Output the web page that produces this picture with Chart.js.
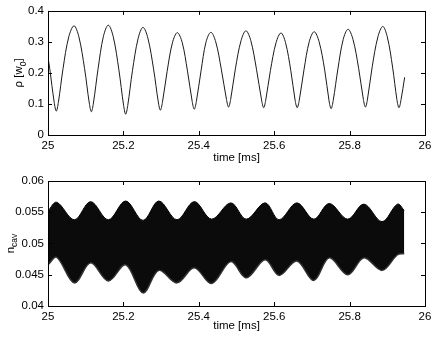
<!DOCTYPE html>
<html>
<head>
<meta charset="utf-8">
<script src="https://cdn.jsdelivr.net/npm/chart.js@4.4.0/dist/chart.umd.min.js"></script>
<style>
  html, body { margin: 0; padding: 0; background: #fff; }
  #wrap { position: relative; width: 436px; height: 337px; overflow: hidden; }
  canvas { position: absolute; left: 0; }
  #top { top: 0; }
  #bottom { top: 168px; }
</style>
</head>
<body>
<div id="wrap">
  <canvas id="top" width="436" height="168"></canvas>
  <canvas id="bottom" width="436" height="169"></canvas>
</div>
<script>
// time axis (ms), shared by both panels
const timeTicks = [25, 25.2, 25.4, 25.6, 25.8, 26];
const timeTickLabels = ['25', '25.2', '25.4', '25.6', '25.8', '26'];

// top panel: rho [w0] (troughs, flanks, peaks)
const rhoTime = [
  25.000, 25.0045, 25.0165,
  25.022, 25.0275, 25.040, 25.055, 25.069, 25.082, 25.097, 25.1095,
  25.115, 25.1205, 25.133, 25.147, 25.160, 25.173, 25.188, 25.2005,
  25.206, 25.2115, 25.224, 25.239, 25.252, 25.265, 25.280, 25.2925,
  25.298, 25.3035, 25.316, 25.330, 25.343, 25.356, 25.370, 25.3825,
  25.388, 25.3935, 25.406, 25.419, 25.432, 25.445, 25.460, 25.4735,
  25.479, 25.4845, 25.497, 25.512, 25.525, 25.538, 25.553, 25.5665,
  25.572, 25.5775, 25.590, 25.605, 25.618, 25.630, 25.644, 25.6555,
  25.661, 25.6665, 25.679, 25.693, 25.706, 25.719, 25.734, 25.7455,
  25.751, 25.7565, 25.769, 25.783, 25.796, 25.809, 25.824, 25.8365,
  25.842, 25.8475, 25.860, 25.875, 25.888, 25.900, 25.914, 25.9255,
  25.931, 25.9365, 25.946
];
const rhoValue = [
  0.250, 0.215, 0.105,
  0.077, 0.105, 0.215, 0.316, 0.352, 0.316, 0.214, 0.103,
  0.075, 0.103, 0.215, 0.318, 0.354, 0.317, 0.210, 0.096,
  0.067, 0.095, 0.207, 0.311, 0.347, 0.312, 0.213, 0.107,
  0.080, 0.105, 0.205, 0.297, 0.330, 0.298, 0.206, 0.108,
  0.083, 0.108, 0.207, 0.299, 0.331, 0.300, 0.210, 0.114,
  0.090, 0.115, 0.213, 0.304, 0.336, 0.304, 0.212, 0.113,
  0.088, 0.112, 0.208, 0.298, 0.329, 0.298, 0.208, 0.112,
  0.088, 0.112, 0.210, 0.301, 0.333, 0.301, 0.209, 0.110,
  0.085, 0.111, 0.213, 0.308, 0.341, 0.308, 0.215, 0.115,
  0.090, 0.116, 0.220, 0.316, 0.350, 0.316, 0.219, 0.114,
  0.088, 0.114, 0.186
];
const rhoTicks = [0, 0.1, 0.2, 0.3, 0.4];
const rhoTickLabels = ['0', '0.1', '0.2', '0.3', '0.4'];

// bottom panel: n_cav, upper and lower envelope of the fast oscillation
const cavTime = [
  25.000, 25.023, 25.070, 25.113, 25.160, 25.206, 25.252, 25.294, 25.342, 25.388, 25.434,
  25.485, 25.526, 25.576, 25.613, 25.660, 25.705, 25.746, 25.795, 25.838, 25.886, 25.927, 25.945
];
const cavUpper = [
  0.0552, 0.0566, 0.0538, 0.0567, 0.0538, 0.0568, 0.0537, 0.0568, 0.0538, 0.0567, 0.0539,
  0.0565, 0.0539, 0.0565, 0.0538, 0.0565, 0.0539, 0.0564, 0.0539, 0.0563, 0.0535, 0.0563, 0.0553
];
const cavLower = [
  0.0466, 0.0478, 0.0437, 0.0469, 0.0440, 0.0466, 0.0421, 0.0457, 0.0437, 0.0461, 0.0436,
  0.0471, 0.0445, 0.0474, 0.0449, 0.0472, 0.0441, 0.0477, 0.0450, 0.0477, 0.0457, 0.0482, 0.0484
];
const cavTicks = [0.04, 0.045, 0.05, 0.055, 0.06];
const cavTickLabels = ['0.04', '0.045', '0.05', '0.055', '0.06'];

Chart.defaults.font.family = '"Liberation Sans", Arial, Helvetica, sans-serif';
Chart.defaults.font.size = 11.5;
Chart.defaults.color = '#000';

// box round the plot, ticks pointing inward on all four sides, y title with subscript
const framePlugin = {
  id: 'frame',
  afterDraw(chart, args, opts) {
    const ctx = chart.ctx, a = chart.chartArea;
    const xs = chart.scales.x, ys = chart.scales.y;
    ctx.save();
    ctx.strokeStyle = '#000';
    ctx.lineWidth = 1;
    ctx.beginPath();
    xs.ticks.forEach(t => {
      const px = Math.round(xs.getPixelForValue(t.value)) + 0.5;
      ctx.moveTo(px, a.bottom); ctx.lineTo(px, a.bottom - 4);
      ctx.moveTo(px, a.top); ctx.lineTo(px, a.top + 4);
    });
    ys.ticks.forEach(t => {
      const py = Math.round(ys.getPixelForValue(t.value)) + 0.5;
      ctx.moveTo(a.left, py); ctx.lineTo(a.left + 4, py);
      ctx.moveTo(a.right, py); ctx.lineTo(a.right - 4, py);
    });
    ctx.stroke();
    ctx.strokeRect(Math.round(a.left) + 0.5, Math.round(a.top) + 0.5,
      Math.round(a.right - a.left), Math.round(a.bottom - a.top));

    // rotated y title
    const parts = opts.parts;
    const mainFont = '11.5px "Liberation Sans", Arial, sans-serif';
    const subFont = '8.5px "Liberation Sans", Arial, sans-serif';
    let total = 0;
    parts.forEach(p => { ctx.font = p.sub ? subFont : mainFont; total += ctx.measureText(p.text).width; });
    ctx.translate(opts.x, (a.top + a.bottom) / 2);
    ctx.rotate(-Math.PI / 2);
    ctx.fillStyle = '#000';
    ctx.textBaseline = 'alphabetic';
    let cx = -total / 2;
    parts.forEach(p => {
      ctx.font = p.sub ? subFont : mainFont;
      ctx.fillText(p.text, cx, p.sub ? 3.5 : 0);
      cx += ctx.measureText(p.text).width;
    });
    ctx.restore();
  }
};

function xAxis(height, titleGap) {
  return {
    type: 'linear', min: 25, max: 26,
    grid: { display: false, drawTicks: false },
    border: { display: false },
    afterBuildTicks: s => { s.ticks = timeTicks.map(v => ({ value: v })); },
    afterFit: s => { s.height = height; },
    ticks: { callback: (v, i) => timeTickLabels[i], padding: 4, maxRotation: 0, autoSkip: false },
    title: { display: true, text: 'time [ms]', padding: { top: 0, bottom: titleGap } }
  };
}

function yAxis(min, max, ticks, labels) {
  return {
    min: min, max: max,
    grid: { display: false, drawTicks: false },
    border: { display: false },
    afterBuildTicks: s => { s.ticks = ticks.map(v => ({ value: v })); },
    afterFit: s => { s.width = 48; },
    ticks: { callback: (v, i) => labels[i], padding: 4, autoSkip: false }
  };
}

new Chart(document.getElementById('top').getContext('2d'), {
  type: 'line',
  data: {
    datasets: [{
      data: rhoTime.map((t, i) => ({ x: t, y: rhoValue[i] })),
      borderColor: '#1a1a1a',
      borderWidth: 1,
      pointRadius: 0,
      tension: 0.35,
      fill: false
    }]
  },
  options: {
    responsive: false,
    animation: false,
    devicePixelRatio: 1,
    layout: { padding: { left: 0, right: 11, top: 10, bottom: 0 } },
    plugins: {
      legend: { display: false },
      tooltip: { enabled: false },
      frame: { x: 22, parts: [{ text: 'ρ [w' }, { text: '0', sub: true }, { text: ']' }] }
    },
    scales: { x: xAxis(33, 3), y: yAxis(0, 0.4, rhoTicks, rhoTickLabels) }
  },
  plugins: [framePlugin]
});

new Chart(document.getElementById('bottom').getContext('2d'), {
  type: 'line',
  data: {
    datasets: [{
      data: cavTime.map((t, i) => ({ x: t, y: cavUpper[i] })),
      borderColor: '#000',
      borderWidth: 1,
      pointRadius: 0,
      tension: 0.35,
      fill: false
    }, {
      data: cavTime.map((t, i) => ({ x: t, y: cavLower[i] })),
      borderColor: '#333',
      borderWidth: 1.5,
      pointRadius: 0,
      tension: 0.35,
      fill: '-1',
      backgroundColor: '#0b0b0b'
    }]
  },
  options: {
    responsive: false,
    animation: false,
    devicePixelRatio: 1,
    layout: { padding: { left: 0, right: 11, top: 13, bottom: 0 } },
    plugins: {
      legend: { display: false },
      tooltip: { enabled: false },
      frame: { x: 13.5, parts: [{ text: 'n' }, { text: 'cav', sub: true }] }
    },
    scales: { x: xAxis(31, 4), y: yAxis(0.04, 0.06, cavTicks, cavTickLabels) }
  },
  plugins: [framePlugin]
});
</script>
</body>
</html>
